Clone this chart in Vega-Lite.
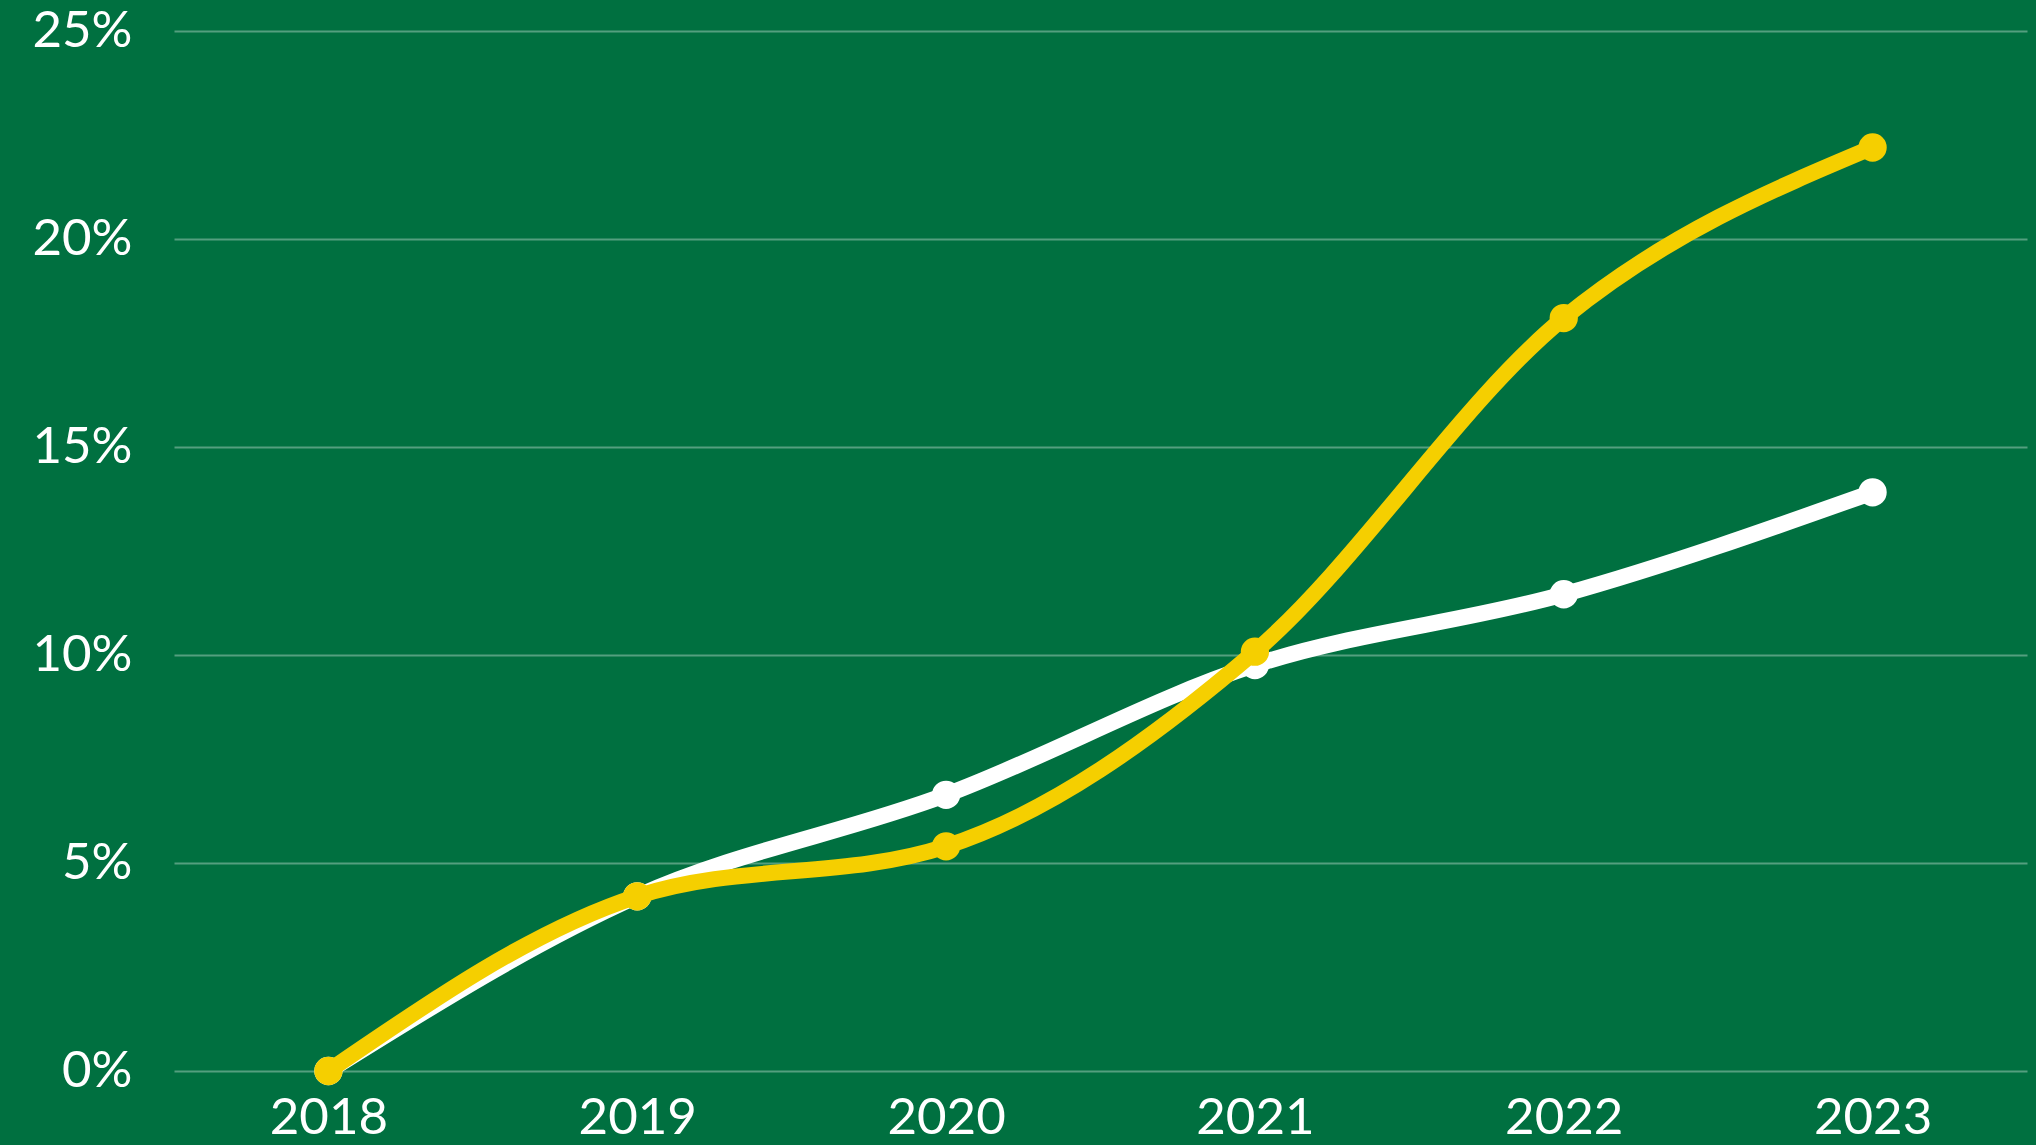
{
  "$schema": "https://vega.github.io/schema/vega-lite/v6.json",
  "width": 1853,
  "height": 1040,
  "autosize": {"type": "none"},
  "padding": {"left": 174, "top": 31, "right": 9, "bottom": 74},
  "background": "#007040",
  "config": {
    "view": {"stroke": null},
    "font": "Lato",
    "axis": {"labelFont": "Lato", "labelColor": "#ffffff", "labelFontSize": 51, "labelFontWeight": 400}
  },
  "data": {
    "values": [
      {"year": "2018", "series": "A", "value": 0.0},
      {"year": "2019", "series": "A", "value": 0.042},
      {"year": "2020", "series": "A", "value": 0.0664},
      {"year": "2021", "series": "A", "value": 0.0976},
      {"year": "2022", "series": "A", "value": 0.1146},
      {"year": "2023", "series": "A", "value": 0.1391},
      {"year": "2018", "series": "B", "value": 0.0},
      {"year": "2019", "series": "B", "value": 0.042},
      {"year": "2020", "series": "B", "value": 0.054},
      {"year": "2021", "series": "B", "value": 0.1008},
      {"year": "2022", "series": "B", "value": 0.181},
      {"year": "2023", "series": "B", "value": 0.222}
    ]
  },
  "encoding": {
    "x": {
      "field": "year", "type": "ordinal",
      "scale": {"type": "point", "padding": 0.5},
      "axis": {"title": null, "labelAngle": 0, "domain": false, "ticks": false, "labelPadding": 22, "grid": false}
    },
    "y": {
      "field": "value", "type": "quantitative",
      "scale": {"domain": [0, 0.25], "nice": false},
      "axis": {"title": null, "values": [0, 0.05, 0.1, 0.15, 0.2, 0.25], "format": ".0%", "domain": false, "ticks": false, "labelPadding": 42, "grid": true, "gridColor": "#ffffff", "gridOpacity": 0.33, "gridWidth": 2}
    }
  },
  "layer": [
    {
      "transform": [{"filter": "datum.series === 'A'"}],
      "mark": {"type": "line", "interpolate": "monotone", "color": "#ffffff", "strokeWidth": 16}
    },
    {
      "transform": [{"filter": "datum.series === 'A'"}],
      "mark": {"type": "circle", "color": "#ffffff", "size": 800, "opacity": 1}
    },
    {
      "transform": [{"filter": "datum.series === 'B'"}],
      "mark": {"type": "line", "interpolate": "monotone", "color": "#F5CF00", "strokeWidth": 16}
    },
    {
      "transform": [{"filter": "datum.series === 'B'"}],
      "mark": {"type": "circle", "color": "#F5CF00", "size": 800, "opacity": 1}
    }
  ]
}
